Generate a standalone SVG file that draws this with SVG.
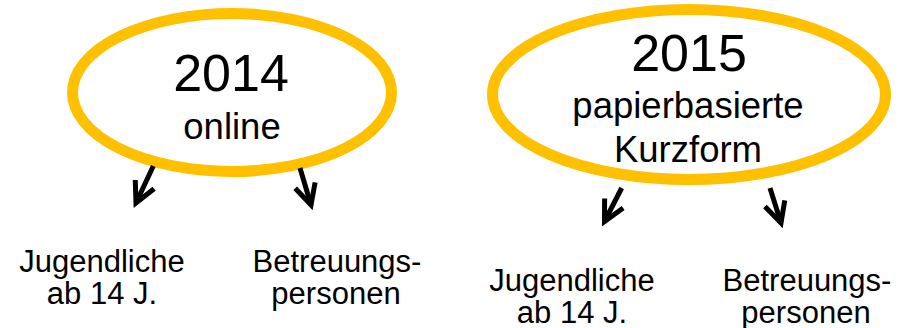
<svg xmlns="http://www.w3.org/2000/svg" width="904" height="328" viewBox="0 0 904 328">
  <style>
    .ring { fill: #ffffff; stroke: #FFC000; stroke-width: 11; }
    text { font-family: "Liberation Sans", Arial, sans-serif; fill: #000000; text-anchor: middle; }
    .year { font-size: 52px; }
    .mode { font-size: 36.5px; }
    .label { font-size: 31px; }
    .arrow { fill: none; stroke: #000000; stroke-width: 5; marker-end: url(#chevron); }
  </style>
  <defs>
    <marker id="chevron" markerUnits="userSpaceOnUse" orient="auto" markerWidth="40" markerHeight="40" refX="0" refY="0" viewBox="-30 -20 40 40" overflow="visible">
      <path d="M -20.5 -10.4 L 0 0 L -20.5 10.4" fill="none" stroke="#000000" stroke-width="5" stroke-linejoin="miter"/>
    </marker>
  </defs>

  <g id="survey-2014">
    <ellipse class="ring" cx="232" cy="92.5" rx="159.5" ry="79"/>
    <text class="year" x="231" y="91">2014</text>
    <text class="mode" x="232" y="139">online</text>
  </g>

  <g id="survey-2015">
    <ellipse class="ring" cx="689" cy="94.5" rx="196.5" ry="85"/>
    <text class="year" x="689" y="71">2015</text>
    <text class="mode" x="688" y="118">papierbasierte</text>
    <text class="mode" x="688" y="162">Kurzform</text>
  </g>

  <g id="youth-2014">
    <text class="label" x="102" y="272">Jugendliche</text>
    <text class="label" x="102" y="304">ab 14 J.</text>
  </g>

  <g id="carers-2014">
    <text class="label" x="337" y="272">Betreuungs-</text>
    <text class="label" x="336" y="304">personen</text>
  </g>

  <g id="youth-2015">
    <text class="label" x="572" y="291">Jugendliche</text>
    <text class="label" x="572" y="323">ab 14 J.</text>
  </g>

  <g id="carers-2015">
    <text class="label" x="807" y="291">Betreuungs-</text>
    <text class="label" x="806" y="323">personen</text>
  </g>

  <g id="connectors">
    <path class="arrow" d="M 153.3 166 L 136 203"/>
    <path class="arrow" d="M 300 168 L 311 205"/>
    <path class="arrow" d="M 621.7 188 L 604.5 221.5"/>
    <path class="arrow" d="M 770 188 L 781 223"/>
  </g>
</svg>
